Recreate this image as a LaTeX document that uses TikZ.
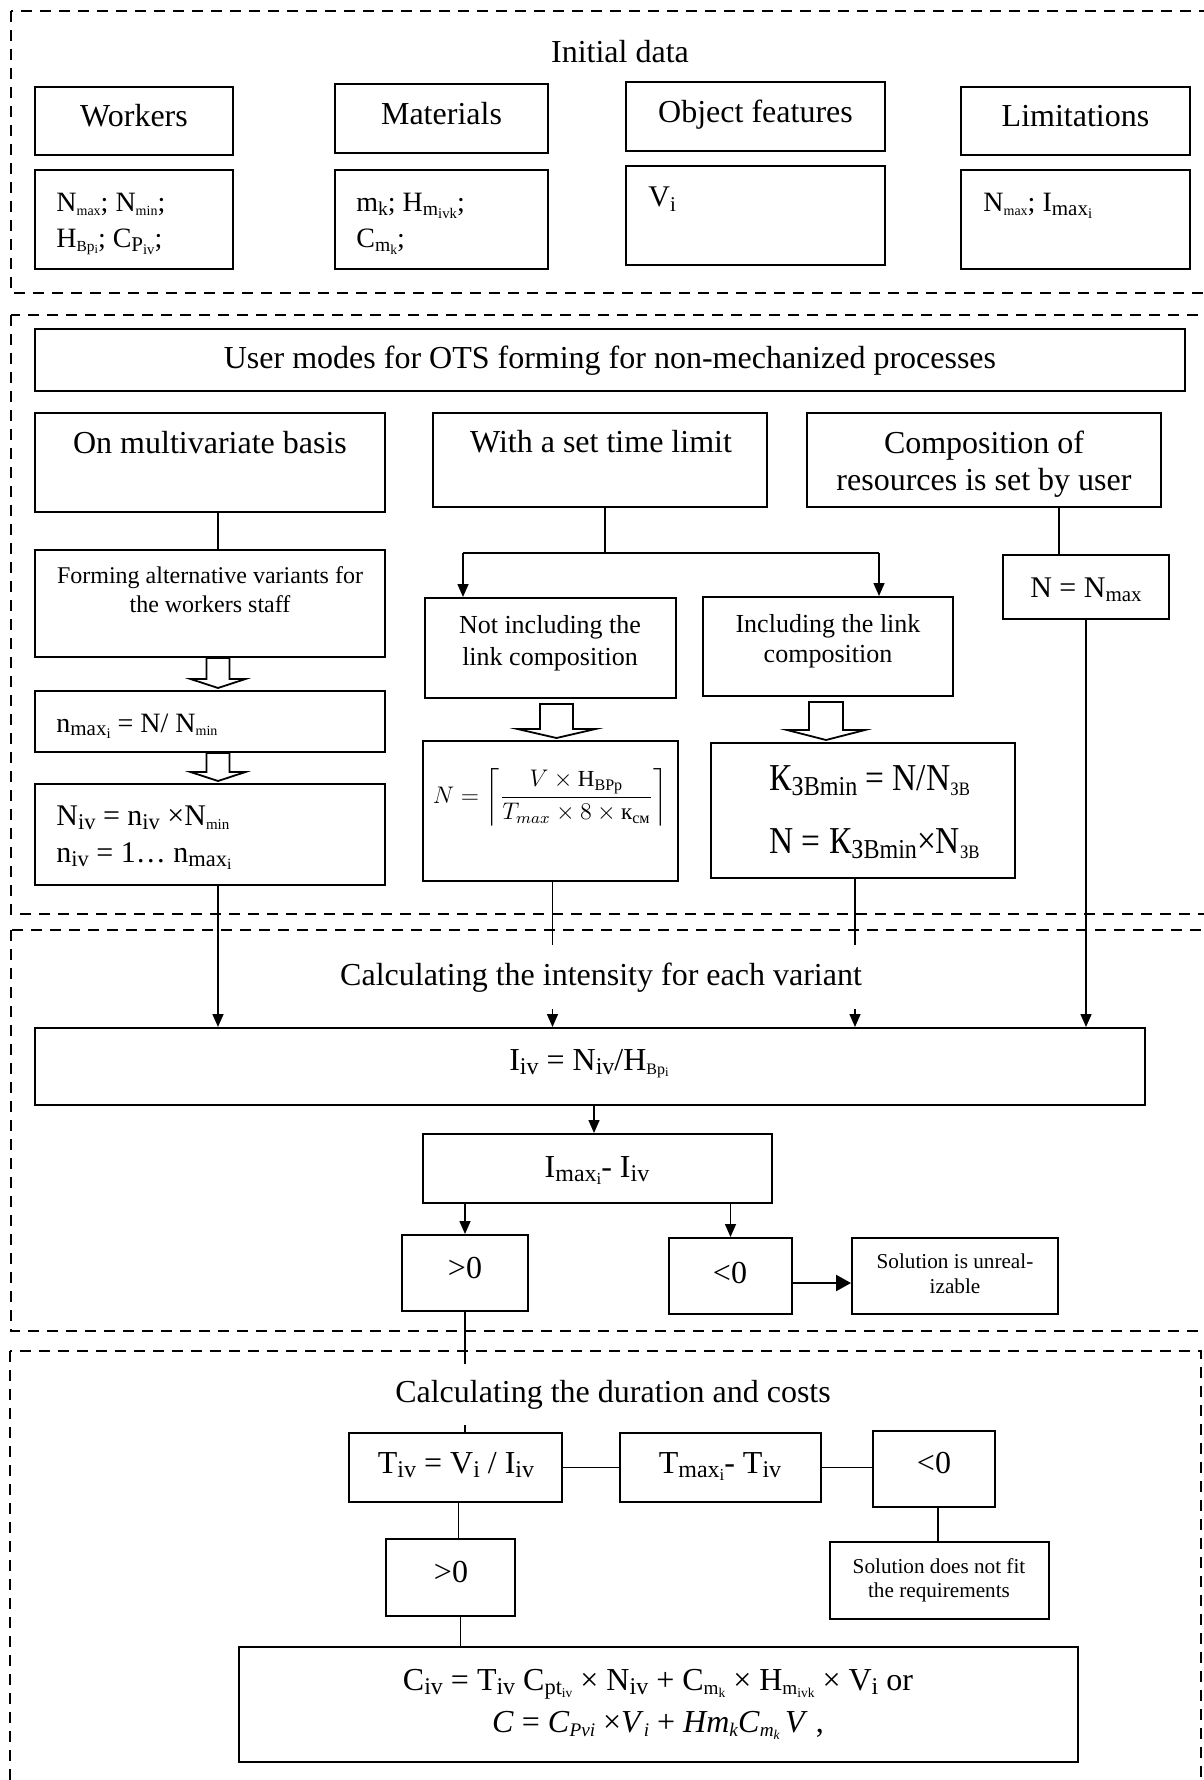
\documentclass[tikz,border=0pt]{standalone}
\usepackage{fontspec}
\setmainfont{Liberation Serif}
\usepackage{amsmath}
\usepackage{graphicx}
\usetikzlibrary{calc,arrows.meta}

% lowered, shrunken index text (Word-style subscripts)
\newcommand\dnx[2][0.62]{\raisebox{-0.3ex}{\scalebox{#1}{#2}}}
% horizontally narrowed formula text
\newcommand\narrow[1]{\scalebox{0.88}[1]{#1}}

% rectangle node from its corners (x1,y1,x2,y2 in px, y downwards)
\newcommand\rbox[6][]{\node[box,minimum width={(#4-#2)*0.5pt},minimum height={(#5-#3)*0.5pt},#1] (#6) at ({(#2+#4)/2},{(#3+#5)/2}) {};}

% hollow block arrow: start point, end point, shaft half width, head half width, head length, top gap (px)
\newcommand\hollow[6]{%
  \draw[blockarr] let \p1=(#1),\p2=(#2) in
    (\x1-#3*0.5pt,\y1-#6*0.5pt) -- (\x1+#3*0.5pt,\y1-#6*0.5pt)
    -- (\x1+#3*0.5pt,\y2+1pt+#5*0.5pt) -- (\x1+#4*0.5pt,\y2+1pt+#5*0.5pt)
    -- (\x1,\y2+1pt)
    -- (\x1-#4*0.5pt,\y2+1pt+#5*0.5pt) -- (\x1-#3*0.5pt,\y2+1pt+#5*0.5pt) -- cycle;}

\tikzset{
  box/.style={draw,line width=1pt,inner sep=0pt,rectangle},
  sect/.style={draw,dash pattern=on 5.5pt off 4pt,line width=0.7pt},
  link/.style={line width=0.8pt},
  arr/.style={link,-{Triangle[length=6.5pt,width=5.5pt]}},
  tarr/.style={line width=1.2pt,-{Triangle[length=7.5pt,width=8pt]}},
  blockarr/.style={draw,line width=0.9pt,fill=white,line join=miter},
  txt/.style={inner sep=0pt,anchor=base},
  big/.style={font=\fontsize{16}{19}\selectfont},
  fifteen/.style={font=\fontsize{15}{18}\selectfont},
  data/.style={font=\fontsize{14}{17}\selectfont},
  mid/.style={font=\fontsize{13}{16}\selectfont},
  small/.style={font=\fontsize{12}{14}\selectfont},
  note/.style={font=\fontsize{10.6}{13}\selectfont},
  huge/.style={font=\fontsize{19}{23}\selectfont},
}

\begin{document}
\begin{tikzpicture}[x=0.5pt,y=-0.5pt]
\useasboundingbox (0,0) rectangle (1203,1780);

% ---------- section frames ----------
\draw[sect] (11,11) rectangle (1212,293);
\draw[sect] (11,315) rectangle (1212,914);
\draw[sect] (11,930) rectangle (1212,1331);
\draw[sect] (10,1351) rectangle (1201,1795);

% ---------- initial data ----------
\rbox{35}{87}{233}{155}{workers}
\rbox{35}{170}{233}{269}{workersD}
\rbox{335}{84}{548}{153}{materials}
\rbox{335}{170}{548}{269}{materialsD}
\rbox{626}{82}{885}{151}{objf}
\rbox{626}{166}{885}{265}{objfD}
\rbox{961}{87}{1190}{155}{limits}
\rbox{961}{170}{1190}{269}{limitsD}

\node[txt,big] (tInit) at (620,63) {Initial data};
\node[txt,big] (tWork) at (134,127) {Workers};
\node[txt,big] (tMat) at (441.5,125) {Materials};
\node[txt,big] (tObj) at (755.5,123) {Object features};
\node[txt,big] (tLim) at (1075.5,127) {Limitations};
\node[txt,data,anchor=base west] (tW1) at (56,212) {N\dnx[0.5]{max}; N\dnx[0.5]{min};};
\node[txt,data,anchor=base west] (tW2) at (56,248) {H\dnx[0.55]{Вр\dnx[0.8]{i}}; C\dnx[0.75]{P\dnx[0.7]{iv}};};
\node[txt,data,anchor=base west] (tM1) at (356,212) {m\dnx[0.7]{k}; H\dnx[0.7]{m\dnx[0.75]{ivk}};};
\node[txt,data,anchor=base west] (tM2) at (356,248) {C\dnx[0.7]{m\dnx[0.7]{k}};};
\node[txt,fifteen,anchor=base west] (tV) at (648,207) {V\dnx[0.7]{i}};
\node[txt,data,anchor=base west] (tL1) at (983,212) {N\dnx[0.5]{max}; I\dnx[0.75]{max\dnx[0.7]{i}}};

% ---------- user modes ----------
\rbox{35}{329}{1185}{391}{modes}
\rbox{35}{413}{385}{512}{multi}
\rbox{433}{413}{767}{507}{timel}
\rbox{807}{413}{1161}{507}{compo}
\rbox{35}{550}{385}{657}{forming}
\rbox{35}{691}{385}{752}{nmaxb}
\rbox{35}{784}{385}{885}{nivb}
\rbox{425}{598}{676}{698}{notinc}
\rbox{703}{597}{953}{696}{inc}
\rbox{423}{741}{678}{881}{nform}
\rbox{711}{743}{1015}{878}{kbox}
\rbox{1003}{555}{1169}{619}{nn}

\node[txt,big] (tModes) at (610,369) {User modes for OTS forming for non-mechanized processes};
\node[txt,big] (tMulti) at (210,454) {On multivariate basis};
\node[txt,big] (tTime) at (601,453) {With a set time limit};
\node[txt,big] (tComp1) at (984,454) {Composition of};
\node[txt,big] (tComp2) at (984,491) {resources is set by user};
\node[txt,small] (tForm1) at (210,583) {Forming alternative variants for};
\node[txt,small] (tForm2) at (210,612) {the workers staff};
\node[txt,data,anchor=base west] (tNmax) at (56,732) {n\dnx[0.75]{max\dnx[0.7]{i}} = N/ N\dnx[0.5]{min}};
\node[txt,fifteen,anchor=base west] (tNiv1) at (56,825) {N\dnx[0.75]{iv} = n\dnx[0.75]{iv} ×N\dnx[0.5]{min}};
\node[txt,fifteen,anchor=base west] (tNiv2) at (56,862) {n\dnx[0.75]{iv} = 1… n\dnx[0.75]{max\dnx[0.7]{i}}};
\node[txt,mid] (tNI1) at (550,633) {Not including the};
\node[txt,mid] (tNI2) at (550,665) {link composition};
\node[txt,mid] (tI1) at (828,632) {Including the link};
\node[txt,mid] (tI2) at (828,662) {composition};
\node[inner sep=0pt,font=\fontsize{11.5}{14}\selectfont] (tFormula) at (550,797)
  {$N=\left\lceil\dfrac{V\times\text{Н}_{\text{ВРр}}}{T_{max}\times 8\times\text{к}_{\text{см}}}\right\rceil$};
\node[txt,huge,anchor=base west] (tK1) at (769,790) {\narrow{К\dnx[0.72]{ЗВmin} = N/N\dnx[0.5]{ЗВ}}};
\node[txt,huge,anchor=base west] (tK2) at (769,853) {\narrow{N = К\dnx[0.72]{ЗВmin}×N\dnx[0.5]{ЗВ}}};
\node[txt,fifteen] (tNN) at (1086,597) {N = N\dnx[0.7]{max}};

% connectors of the user modes
\coordinate (mo) at ([xshift=4pt]multi.south);
\draw[link] (mo) -- (mo |- forming.north);
\coordinate (fo) at ([xshift=4pt]forming.south);
\coordinate (no) at ([xshift=4pt]nmaxb.south);
\hollow{fo}{fo |- nmaxb.north}{11.5}{27.5}{9}{0}
\hollow{no}{no |- nivb.north}{11.5}{27.5}{9}{0}
\coordinate (nio) at ([xshift=3pt]notinc.south);
\coordinate (ino) at ([xshift=-1pt]inc.south);
\hollow{nio}{nio |- nform.north}{16.5}{39}{9}{5}
\hollow{ino}{ino |- kbox.north}{17}{39}{10}{5}

\coordinate (tlo) at ([xshift=2.5pt]timel.south);
\coordinate (brL) at (463,553);
\coordinate (brR) at (879,553);
\draw[link] (tlo) -- (tlo |- brL);
\draw[link] (brL) -- (brR);
\draw[arr] (brL) -- (brL |- notinc.north);
\draw[arr] (brR) -- (brR |- inc.north);

\coordinate (co) at ([xshift=37.5pt]compo.south);
\draw[link] (co) -- (co |- nn.north);

% ---------- intensity ----------
\rbox{35}{1028}{1145}{1105}{iiv}
\rbox{423}{1134}{772}{1203}{imax}
\rbox{402}{1235}{528}{1311}{gt}
\rbox{669}{1238}{792}{1314}{lt}
\rbox{852}{1238}{1058}{1314}{unreal}

\coordinate (nivo) at ([xshift=4pt]nivb.south);
\draw[arr] (nivo) -- (nivo |- iiv.north);
\coordinate (nfo) at ([xshift=1pt]nform.south);
\draw[arr] (nfo) -- (nfo |- iiv.north);
\coordinate (ko) at ([xshift=-4pt]kbox.south);
\draw[arr] (ko) -- (ko |- iiv.north);
\draw[arr] (nn.south) -- (nn.south |- iiv.north);

\coordinate (io) at ([xshift=2pt]iiv.south);
\draw[arr] (io) -- (io |- imax.north);
\draw[arr] (gt.north |- imax.south) -- (gt.north);
\draw[arr] (lt.north |- imax.south) -- (lt.north);
\coordinate (lto) at ([yshift=-3.5pt]lt.east);
\draw[tarr] (lto) -- (lto -| unreal.west);

\node[txt,big,fill=white,inner xsep=2pt,inner ysep=8.5pt] (tIntens) at (601,985) {Calculating the intensity for each variant};
\node[txt,big] (tIiv) at (589,1070) {I\dnx[0.75]{iv} = N\dnx[0.75]{iv}/H\dnx[0.5]{Вр\dnx[0.8]{i}}};
\node[txt,big] (tImax) at (597,1177) {I\dnx[0.75]{max\dnx[0.7]{i}}- I\dnx[0.75]{iv}};
\node[txt,big] (tGt) at (465,1278) {>0};
\node[txt,big] (tLt) at (730,1283) {<0};
\node[txt,note] (tU1) at (955,1268) {Solution is unreal-};
\node[txt,note] (tU2) at (955,1293) {izable};

% ---------- duration and costs ----------
\rbox{349}{1433}{562}{1502}{tiv}
\rbox{620}{1433}{821}{1502}{tmax}
\rbox{873}{1431}{995}{1507}{lt2}
\rbox{830}{1542}{1049}{1619}{nofit}
\rbox{386}{1539}{515}{1616}{gt2}
\rbox{239}{1647}{1078}{1762}{cbox}

\draw[link] (gt.south) -- (gt.south |- tiv.north);
\draw[link] (tiv.east) -- (tmax.west);
\draw[link] (tmax.east) -- (tmax.east -| lt2.west);
\coordinate (l2o) at ([xshift=2pt]lt2.south);
\draw[link] (l2o) -- (l2o |- nofit.north);
\coordinate (tvo) at ([xshift=1.5pt]tiv.south);
\draw[link] (tvo) -- (tvo |- gt2.north);
\coordinate (g2o) at ([xshift=5pt]gt2.south);
\draw[link] (g2o) -- (g2o |- cbox.north);

\node[txt,big,fill=white,inner xsep=2pt,inner ysep=8pt] (tDur) at (613,1402) {Calculating the duration and costs};
\node[txt,big] (tTiv) at (456,1473) {T\dnx[0.75]{iv} = V\dnx[0.75]{i} / I\dnx[0.75]{iv}};
\node[txt,big] (tTmax) at (720,1473) {T\dnx[0.75]{max\dnx[0.7]{i}}- T\dnx[0.75]{iv}};
\node[txt,big] (tLt2) at (934,1473) {<0};
\node[txt,big] (tGt2) at (451,1582) {>0};
\node[txt,note] (tF1) at (939,1573) {Solution does not fit};
\node[txt,note] (tF2) at (939,1597) {the requirements};
\node[txt,big] (tC1) at (658,1690) {C\dnx[0.75]{iv} = T\dnx[0.75]{iv} C\dnx[0.7]{pt\dnx[0.6]{iv}} × N\dnx[0.75]{iv} + C\dnx[0.6]{m\dnx[0.7]{k}} × H\dnx[0.6]{m\dnx[0.7]{ivk}} × V\dnx[0.75]{i} or};
\node[txt,big] (tC2) at (658,1732) {\textit{C} = \textit{C}\dnx[0.6]{\textit{Pvi}} ×\textit{V}\dnx[0.6]{\textit{i}} + \textit{Hm}\dnx[0.6]{\textit{k}}\textit{C}\dnx[0.6]{\textit{m}\dnx[0.7]{\textit{k}}}\,\textit{V} ,};
\end{tikzpicture}
\end{document}
